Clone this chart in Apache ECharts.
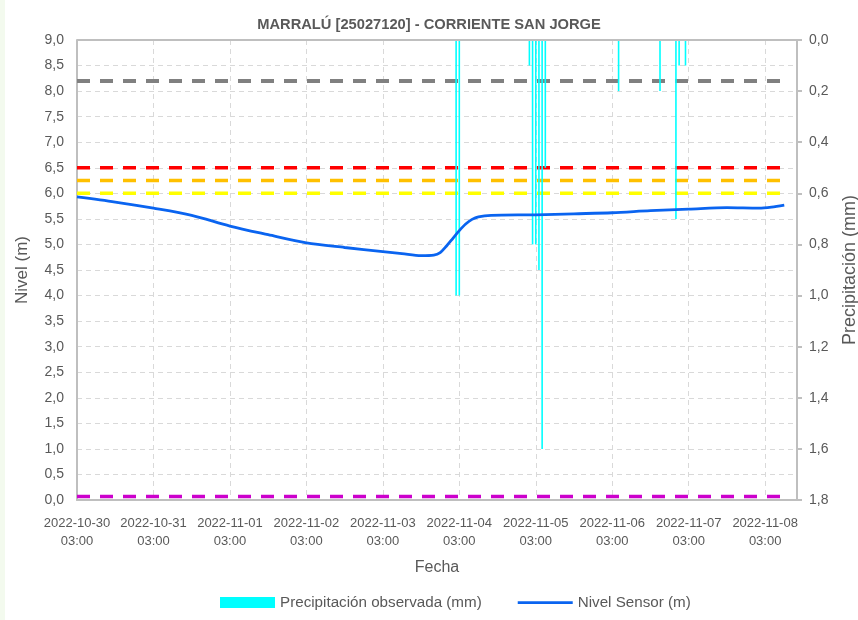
<!DOCTYPE html>
<html>
<head>
<meta charset="utf-8">
<script src="https://cdn.jsdelivr.net/npm/echarts@6/dist/echarts.min.js"></script>
<style>
  html, body { margin: 0; padding: 0; background: #fff; }
  #strip { position: absolute; left: 0; top: 0; width: 5px; height: 620px; background: #f3faee; }
  #chart { width: 858px; height: 620px; }
</style>
</head>
<body>
<div id="strip"></div>
<div id="chart"></div>
<script>
// datos
const startTime = '2022-10-30 03:00';
const axisEnd = '2022-11-08 13:00';

const levelTimes = [
  '2022-10-30 03:00', '2022-10-30 15:00', '2022-10-31 03:00', '2022-10-31 15:00',
  '2022-11-01 03:00', '2022-11-01 15:00', '2022-11-02 03:00', '2022-11-02 15:00',
  '2022-11-03 03:00', '2022-11-03 09:00', '2022-11-03 15:00', '2022-11-03 19:00',
  '2022-11-03 21:00', '2022-11-03 23:00', '2022-11-04 01:00', '2022-11-04 03:00',
  '2022-11-04 05:00', '2022-11-04 07:00', '2022-11-04 09:00', '2022-11-04 13:00',
  '2022-11-05 03:00', '2022-11-05 15:00', '2022-11-06 03:00', '2022-11-06 15:00',
  '2022-11-07 03:00', '2022-11-07 15:00', '2022-11-08 01:00', '2022-11-08 05:00',
  '2022-11-08 09:00'
];
const levelValues = [
  5.93, 5.83, 5.71, 5.57,
  5.36, 5.19, 5.03, 4.94,
  4.86, 4.82, 4.78, 4.79,
  4.84, 4.97, 5.12, 5.27,
  5.40, 5.49, 5.54, 5.57,
  5.58, 5.60, 5.62, 5.66,
  5.69, 5.72, 5.71, 5.73,
  5.77
];

const rainTimes = [
  '2022-11-04 02:00', '2022-11-04 03:00',
  '2022-11-05 01:00', '2022-11-05 02:00', '2022-11-05 03:00', '2022-11-05 04:00',
  '2022-11-05 05:00', '2022-11-05 06:00',
  '2022-11-06 05:00', '2022-11-06 18:00', '2022-11-06 23:00', '2022-11-07 00:00',
  '2022-11-07 02:00'
];
const rainValues = [
  1.0, 1.0,
  0.1, 0.8, 0.8, 0.9,
  1.6, 0.5,
  0.2, 0.2, 0.7, 0.1,
  0.1
];

// umbrales de nivel
const thresholdValues = [8.2, 6.5, 6.25, 6.0, 0.07];
const thresholdColors = ['#808080', '#ff0000', '#ffc000', '#ffff00', '#cc00cc'];

const leftTicks = { min: 0, max: 9, interval: 0.5 };
const rightTicks = { min: 0, max: 1.8, interval: 0.2 };

const toMs = (s) => {
  const [d, t] = s.split(' ');
  const [y, m, day] = d.split('-').map(Number);
  const [hh, mm] = t.split(':').map(Number);
  return Date.UTC(y, m - 1, day, hh, mm);
};
const t0 = toMs(startTime);
const toHours = (s) => (toMs(s) - t0) / 3600000;
const pad = (n) => (n < 10 ? '0' + n : '' + n);
const hoursLabel = (h) => {
  const d = new Date(t0 + h * 3600000);
  return d.getUTCFullYear() + '-' + pad(d.getUTCMonth() + 1) + '-' + pad(d.getUTCDate()) +
    '\n' + pad(d.getUTCHours()) + ':' + pad(d.getUTCMinutes());
};
const comma = (v) => v.toFixed(1).replace('.', ',');

const FONT = "'Liberation Sans', Arial, sans-serif";
const txt = '#595959';
const gridStyle = { color: '#d9d9d9', type: [5, 4], width: 1 };

const levelData = levelTimes.map((t, i) => [toHours(t), levelValues[i]]);
const rainData = rainTimes.map((t, i) => [toHours(t), rainValues[i]]);
const lastHour = levelData[levelData.length - 1][0];

let chart = echarts.init(document.getElementById('chart'), null, { renderer: 'canvas' });

let thresholdSeries = thresholdValues.map((v, i) => ({
  type: 'line',
  yAxisIndex: 0,
  symbol: 'none',
  silent: true,
  z: 3,
  lineStyle: { color: thresholdColors[i], width: i === 0 ? 4 : 3.5, type: [13, 10] },
  data: [[0, v], [lastHour + 1.5, v]]
}));

let option = {
  animation: false,
  textStyle: { fontFamily: FONT },
  title: {
    text: 'MARRALÚ [25027120] - CORRIENTE SAN JORGE',
    left: 'center',
    top: 12,
    textStyle: { fontFamily: FONT, fontSize: 14.7, fontWeight: 'bold', color: txt }
  },
  grid: { left: 77, right: 61, top: 40, bottom: 120, containLabel: false, outerBoundsMode: 'none' },
  legend: {
    top: 590,
    left: 215,
    itemWidth: 55,
    itemHeight: 11,
    itemGap: 36,
    textStyle: { fontFamily: FONT, fontSize: 15.2, color: txt },
    data: [
      { name: 'Precipitación observada (mm)', icon: 'rect' },
      { name: 'Nivel Sensor (m)', icon: 'path://M0,0 L60,0 L60,3 L0,3 Z' }
    ]
  },
  xAxis: {
    type: 'value',
    min: 0,
    max: toHours(axisEnd),
    interval: 24,
    name: 'Fecha',
    nameLocation: 'middle',
    nameGap: 60,
    nameTextStyle: { fontFamily: FONT, fontSize: 16, color: txt },
    axisLine: { show: true, lineStyle: { color: '#bfbfbf', width: 2 } },
    axisTick: { show: false },
    axisLabel: {
      color: txt, fontSize: 13, lineHeight: 18, margin: 14,
      showMinLabel: true,
      showMaxLabel: false,
      hideOverlap: false,
      formatter: hoursLabel
    },
    splitLine: { show: true, lineStyle: gridStyle }
  },
  yAxis: [
    {
      type: 'value',
      min: leftTicks.min, max: leftTicks.max, interval: leftTicks.interval,
      name: 'Nivel (m)',
      nameLocation: 'middle',
      nameRotate: 90,
      nameGap: 46,
      nameTextStyle: { fontFamily: FONT, fontSize: 17, color: txt },
      axisLine: { show: true, lineStyle: { color: '#bfbfbf', width: 2 } },
      axisTick: { show: false },
      axisLabel: { color: txt, fontSize: 14, margin: 13, formatter: comma },
      splitLine: { show: true, lineStyle: gridStyle }
    },
    {
      type: 'value',
      inverse: true,
      position: 'right',
      min: rightTicks.min, max: rightTicks.max, interval: rightTicks.interval,
      name: 'Precipitación (mm)',
      nameLocation: 'middle',
      nameRotate: 90,
      nameGap: 44,
      nameTextStyle: { fontFamily: FONT, fontSize: 18, color: txt },
      axisLine: { show: true, lineStyle: { color: '#bfbfbf', width: 2 } },
      axisTick: { show: true, length: 5, lineStyle: { color: '#bfbfbf', width: 2 } },
      axisLabel: { color: txt, fontSize: 14, margin: 12, formatter: comma },
      splitLine: { show: false }
    }
  ],
  series: [
    {
      name: 'Precipitación observada (mm)',
      type: 'bar',
      yAxisIndex: 1,
      barWidth: 1.6,
      itemStyle: { color: '#00ffff' },
      z: 4,
      data: rainData
    },
    {
      name: 'Nivel Sensor (m)',
      type: 'line',
      yAxisIndex: 0,
      symbol: 'none',
      smooth: 0.3,
      z: 5,
      lineStyle: { color: '#0a64f0', width: 2.8 },
      itemStyle: { color: '#0a64f0' },
      data: levelData
    }
  ].concat(thresholdSeries)
};

chart.setOption(option);

// borde superior del area de trazado
let topY = chart.convertToPixel({ yAxisIndex: 0 }, leftTicks.max);
let x0 = chart.convertToPixel({ xAxisIndex: 0 }, 0);
let x1 = chart.convertToPixel({ xAxisIndex: 0 }, toHours(axisEnd));
chart.setOption({
  graphic: [{
    type: 'line', silent: true, z: 10,
    shape: { x1: x0, y1: topY, x2: x1, y2: topY },
    style: { stroke: '#bfbfbf', lineWidth: 2 }
  }]
});
</script>
</body>
</html>
